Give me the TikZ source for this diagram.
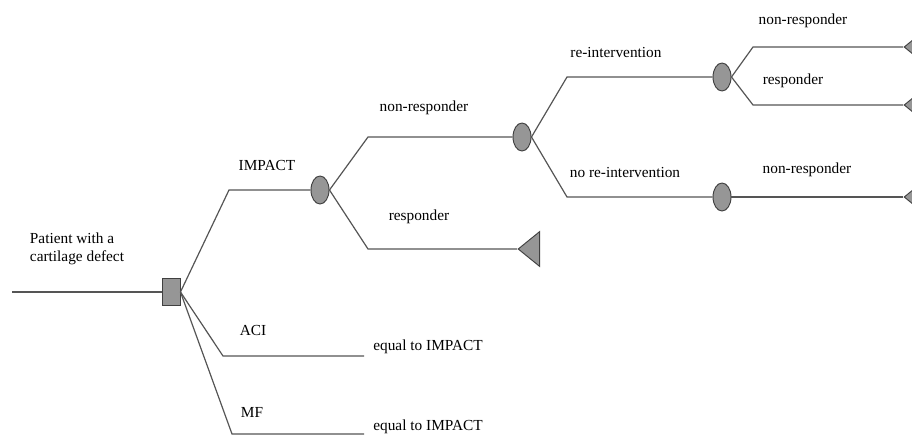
\documentclass[tikz,border=0pt]{standalone}
\usepackage{fontspec}
\setmainfont{Liberation Serif}
\usetikzlibrary{shapes.geometric}
\definecolor{branchgray}{RGB}{85,85,85}
\definecolor{nodegray}{RGB}{150,150,150}
\tikzset{
  branch/.style={draw=branchgray, line width=0.9pt},
  decisionnode/.style={draw=black!75, fill=nodegray, rectangle, minimum width=13.5pt, minimum height=20pt, inner sep=0pt, line width=0.7pt},
  chancenode/.style={draw=black!75, fill=nodegray, ellipse, minimum width=13.5pt, minimum height=21pt, inner sep=0pt, line width=0.7pt},
  endnode/.style={draw=black!75, fill=nodegray, isosceles triangle, isosceles triangle stretches, shape border rotate=180, minimum width=26pt, minimum height=16pt, inner sep=0pt, anchor=apex, line width=0.7pt},
  lbl/.style={text=black, font=\fontsize{11.5}{13.5}\selectfont, inner sep=0pt}
}

\begin{document}
\begin{tikzpicture}[x=0.75pt, y=-0.75pt]
  \useasboundingbox (0,0) rectangle (912,435);

  % nodes of the tree
  \coordinate (root) at (12,292);
  \node[decisionnode] (dec) at (171,292) {};
  \node[chancenode] (ch1) at (320,190) {};
  \node[chancenode] (ch2) at (522,137) {};
  \node[chancenode] (ch3) at (722,77) {};
  \node[chancenode] (ch4) at (722,197) {};
  \node[endnode] (endresp) at (517,249) {};
  \node[endnode] (endnonre) at (903,47) {};
  \node[endnode] (endre) at (903,105) {};
  \node[endnode] (endnore) at (903,197) {};
  \coordinate (aciend) at (364,356);
  \coordinate (mfend) at (364,434);

  % branch corners
  \coordinate (kimp) at (229,190);
  \coordinate (kaci) at (223,356);
  \coordinate (kmf) at (232,434);
  \coordinate (knonresp) at (368,137);
  \coordinate (kresp) at (368,249);
  \coordinate (kreint) at (567,77);
  \coordinate (knoreint) at (567,197);
  \coordinate (knonre) at (753,47);
  \coordinate (kre) at (753,105);

  % branches
  \draw[branch] (root) -- (dec.west);
  \draw[branch] (dec.east) -- (kimp) -- (ch1.west);
  \draw[branch] (dec.east) -- (kaci) -- (aciend);
  \draw[branch] (dec.east) -- (kmf) -- (mfend);
  \draw[branch] (ch1.east) -- (knonresp) -- (ch2.west);
  \draw[branch] (ch1.east) -- (kresp) -- (endresp.apex);
  \draw[branch] (ch2.east) -- (kreint) -- (ch3.west);
  \draw[branch] (ch2.east) -- (knoreint) -- (ch4.west);
  \draw[branch] (ch4.east) -- (endnore.apex);
  \draw[branch] (ch3.east) -- (knonre) -- (endnonre.apex);
  \draw[branch] (ch3.east) -- (kre) -- (endre.apex);

  % labels
  \node[lbl, align=left] (lpatient) at (77,249) {Patient with a\\cartilage defect};
  \node[lbl] (limpact) at (267,165) {IMPACT};
  \node[lbl] (laci) at (253,330) {ACI};
  \node[lbl] (lmf) at (252,412) {MF};
  \node[lbl] (lequal1) at (428,347) {equal to IMPACT};
  \node[lbl] (lequal2) at (428,427) {equal to IMPACT};
  \node[lbl] (lnonresp) at (424,108) {non-responder};
  \node[lbl] (lresp) at (419,217) {responder};
  \node[lbl] (lreint) at (616,52) {re-intervention};
  \node[lbl] (lnoreint) at (625,172) {no re-intervention};
  \node[lbl] (lnonre) at (803,21) {non-responder};
  \node[lbl] (lre) at (793,81) {responder};
  \node[lbl] (lnore) at (807,170) {non-responder};
\end{tikzpicture}
\end{document}
